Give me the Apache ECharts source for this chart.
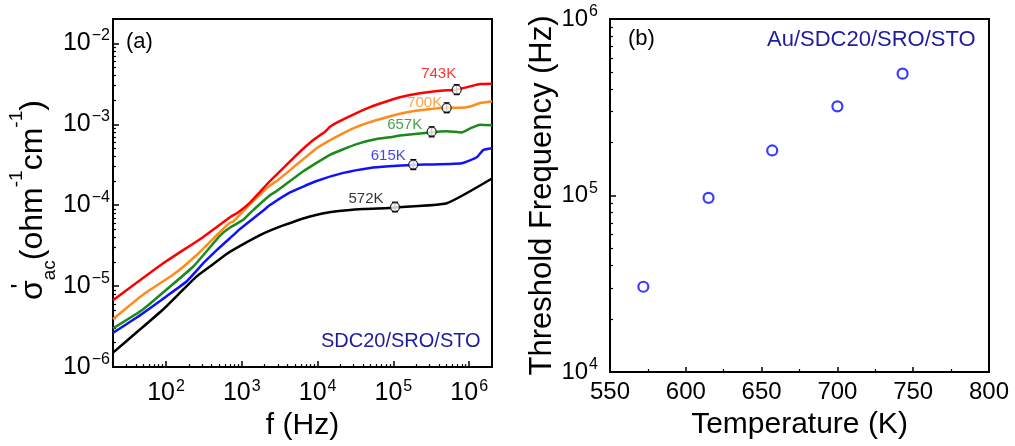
<!DOCTYPE html>
<html><head><meta charset="utf-8">
<script src="https://cdn.jsdelivr.net/npm/echarts@6/dist/echarts.min.js"></script>
<style>html,body{margin:0;padding:0;background:#fff}#c{width:1015px;height:446px}</style>
</head><body><div id="c"></div>
<script>
// ---------------- DATA ----------------
const seriesNames = ['572K', '615K', '657K', '700K', '743K'];

const f_572K = [20, 41.1, 92.2, 169, 254, 381, 632, 1047, 1740, 2307, 3530, 7940, 17870, 40090, 88330, 105000, 505000, 2000000];
const s_572K = [1.51e-6, 2.69e-6, 5.19e-6, 9.1e-6, 1.32e-5, 1.75e-5, 2.5e-5, 3.3e-5, 4.26e-5, 4.81e-5, 5.64e-5, 7.26e-5, 8.41e-5, 8.98e-5, 9.23e-5, 9.42e-5, 1.06e-4, 2.14e-4];

const f_615K = [20, 41.1, 102, 188, 311, 467, 813, 947, 1923, 2307, 4325, 9730, 21830, 49170, 88330, 183000, 796000, 1260000, 1540000, 2000000];
const s_615K = [2.65e-6, 4.1e-6, 7.53e-6, 1.15e-5, 1.92e-5, 2.79e-5, 4.46e-5, 5.1e-5, 8.59e-5, 9.9e-5, 1.44e-4, 1.99e-4, 2.51e-4, 2.89e-4, 3.03e-4, 3.15e-4, 3.31e-4, 3.91e-4, 4.83e-4, 5.07e-4];

const f_657K = [20, 50.2, 102, 229, 516, 700, 1047, 1283, 2307, 2890, 6480, 14580, 32810, 60260, 88330, 122000, 304000, 505000, 796000, 1030000, 1390000, 2000000];
const s_657K = [3.01e-6, 5.19e-6, 9.1e-6, 1.75e-5, 4.2e-5, 5.3e-5, 6.6e-5, 8.0e-5, 1.31e-4, 1.5e-4, 2.63e-4, 4.2e-4, 5.68e-4, 6.58e-4, 6.9e-4, 7.25e-4, 7.94e-4, 8.2e-4, 7.94e-4, 8.89e-4, 9.9e-4, 9.75e-4];

const f_700K = [20, 50.2, 125, 254, 516, 700, 773, 1283, 2307, 2890, 5300, 9730, 17870, 32810, 60260, 88330, 122000, 224000, 505000, 756000, 1030000, 1390000, 2000000];
const s_700K = [3.92e-6, 7.91e-6, 1.39e-5, 2.43e-5, 4.67e-5, 6.07e-5, 6.3e-5, 1.03e-4, 1.73e-4, 1.99e-4, 3.18e-4, 5.07e-4, 7.05e-4, 9.31e-4, 1.13e-3, 1.25e-3, 1.35e-3, 1.49e-3, 1.6e-3, 1.6e-3, 1.66e-3, 1.83e-3, 1.93e-3];

const f_743K = [20, 92, 311, 700, 900, 1283, 2307, 2606, 5300, 8780, 12530, 14580, 17870, 29580, 49170, 88330, 122000, 224000, 412000, 684000, 1030000, 1390000, 2000000];
const s_743K = [6.7e-6, 1.92e-5, 4.06e-5, 7.1e-5, 8.2e-5, 1.08e-4, 1.95e-4, 2.18e-4, 4.2e-4, 6.4e-4, 8.1e-4, 9.3e-4, 1.05e-3, 1.32e-3, 1.63e-3, 1.97e-3, 2.16e-3, 2.42e-3, 2.6e-3, 2.68e-3, 2.94e-3, 3.14e-3, 3.17e-3];

// threshold markers on the curves (a)
const markerFreq  = [1.05e5, 1.83e5, 3.2e5, 5.05e5, 6.84e5];
const markerSigma = [9.5e-5, 3.18e-4, 8.1e-4, 1.6e-3, 2.68e-3];
const markerLow   = [8.3e-5, 2.76e-4, 7.0e-4, 1.39e-3, 2.33e-3];
const markerHigh  = [1.09e-4, 3.66e-4, 9.3e-4, 1.84e-3, 3.08e-3];

// panel (b)
const thresholdTemp = [572, 615, 657, 700, 743];
const thresholdFreq = [3.04e4, 9.7e4, 1.8e5, 3.2e5, 4.9e5];

// tick labels
const fTicksA = [1e2, 1e3, 1e4, 1e5, 1e6];
const sTicksA = [1e-6, 1e-5, 1e-4, 1e-3, 1e-2];
const tTicksB = [550, 600, 650, 700, 750, 800];
const yTicksB = [1e4, 1e5, 1e6];

// ---------------- STYLE ----------------
const colors = ['#000000', '#1010ff', '#1a8a1a', '#ff8c1a', '#ff0000'];
const labelOffsets = [[-29, -8], [-25, -9], [-27, -7], [-22, -5], [-18, -16]];
const FONT = "'Liberation Sans', Arial, sans-serif";

function logMinors(lo, hi) {
  const out = [];
  for (let e = Math.floor(Math.log10(lo)); e <= Math.ceil(Math.log10(hi)); e++) {
    for (let m = 2; m <= 9; m++) {
      const v = parseFloat((m * Math.pow(10, e)).toPrecision(6));
      if (v > lo * 1.0001 && v < hi * 0.9999) out.push(v);
    }
  }
  return out;
}
const supFmt = v => '{b|10}{s|' + String(Math.round(Math.log10(v))).replace('-', '\u2212') + '}';
const richTick = (bs, ss) => ({
  b: { fontSize: bs, lineHeight: bs + 6, fontFamily: FONT, color: '#000' },
  s: { fontSize: ss, lineHeight: ss, verticalAlign: 'top', fontFamily: FONT, color: '#000', padding: [0, 0, 0, 1] }
});
const lineStyleAx = { color: '#000', width: 2 };

const fA = [f_572K, f_615K, f_657K, f_700K, f_743K];
const sA = [s_572K, s_615K, s_657K, s_700K, s_743K];

const series = [];
seriesNames.forEach((n, i) => {
  series.push({
    type: 'line', name: n, xAxisIndex: 0, yAxisIndex: 0,
    data: fA[i].map((f, j) => [f, sA[i][j]]),
    showSymbol: false, symbol: 'none', smooth: 0.15,
    lineStyle: { color: colors[i], width: 2.5 }, z: 2
  });
});
series.push({
  type: 'custom', xAxisIndex: 0, yAxisIndex: 0, z: 5,
  data: markerFreq.map((f, i) => [f, markerLow[i], markerHigh[i]]),
  encode: { x: 0, y: [1, 2] },
  renderItem: (params, api) => {
    const p1 = api.coord([api.value(0), api.value(1)]);
    const p2 = api.coord([api.value(0), api.value(2)]);
    const w = 3, st = { stroke: '#000', lineWidth: 1.3 };
    return { type: 'group', children: [
      { type: 'line', shape: { x1: p1[0], y1: p1[1], x2: p2[0], y2: p2[1] }, style: st },
      { type: 'line', shape: { x1: p1[0] - w, y1: p1[1], x2: p1[0] + w, y2: p1[1] }, style: st },
      { type: 'line', shape: { x1: p2[0] - w, y1: p2[1], x2: p2[0] + w, y2: p2[1] }, style: st }
    ]};
  }
});
series.push({
  type: 'scatter', xAxisIndex: 0, yAxisIndex: 0, z: 6,
  symbol: 'circle', symbolSize: 9,
  itemStyle: { color: '#fff', borderColor: '#000', borderWidth: 1.3 },
  data: markerFreq.map((f, i) => ({
    value: [f, markerSigma[i]], name: seriesNames[i],
    label: { show: true, position: 'inside', offset: labelOffsets[i], formatter: seriesNames[i],
      color: colors[i], fontSize: 15, fontFamily: FONT }
  }))
});
series.push({
  type: 'scatter', xAxisIndex: 2, yAxisIndex: 2,
  symbol: 'circle', symbolSize: 10,
  itemStyle: { color: '#fff', borderColor: '#0a0aff', borderWidth: 2.2 },
  data: thresholdTemp.map((t, i) => [t, thresholdFreq[i]])
});

const option = {
  animation: false,
  backgroundColor: '#fff',
  grid: [
    { left: 113, top: 19, width: 379, height: 353, show: true, borderColor: '#000', borderWidth: 2, backgroundColor: 'transparent' },
    { left: 610, top: 19, width: 379, height: 353, show: true, borderColor: '#000', borderWidth: 2, backgroundColor: 'transparent' }
  ],
  xAxis: [
    { type: 'log', logBase: 10, gridIndex: 0, min: 20, max: 2e6, position: 'bottom',
      axisLine: { show: true, lineStyle: lineStyleAx },
      axisTick: { show: true, inside: true, length: 6, lineStyle: { color: '#000', width: 1.5 }, customValues: fTicksA },
      axisLabel: { show: true, margin: 11, customValues: fTicksA, formatter: supFmt, rich: richTick(25, 16) },
      splitLine: { show: false },
      name: 'f (Hz)', nameLocation: 'middle', nameGap: 38,
      nameTextStyle: { fontSize: 30, fontFamily: FONT, color: '#000' } },
    { type: 'log', logBase: 10, gridIndex: 0, min: 20, max: 2e6, position: 'bottom', offset: 0,
      axisLine: { show: false },
      axisTick: { show: true, inside: true, length: 3, lineStyle: { color: '#000', width: 1.2 }, customValues: logMinors(20, 2e6) },
      axisLabel: { show: false }, splitLine: { show: false } },
    { type: 'value', gridIndex: 1, min: 550, max: 800, interval: 50, position: 'bottom',
      axisLine: { show: true, lineStyle: lineStyleAx },
      axisTick: { show: true, inside: true, length: 5, lineStyle: { color: '#000', width: 1.5 } },
      minorTick: { show: true, splitNumber: 2, length: 3, lineStyle: { color: '#000', width: 1.2 } },
      axisLabel: { show: true, margin: 8, fontSize: 24, fontFamily: FONT, color: '#000',
        customValues: tTicksB, formatter: v => String(v) },
      splitLine: { show: false },
      name: 'Temperature (K)', nameLocation: 'middle', nameGap: 38,
      nameTextStyle: { fontSize: 30, fontFamily: FONT, color: '#000' } }
  ],
  yAxis: [
    { type: 'log', logBase: 10, gridIndex: 0, min: 1e-6, max: 2e-2, position: 'left',
      axisLine: { show: true, lineStyle: lineStyleAx },
      axisTick: { show: true, inside: true, length: 6, lineStyle: { color: '#000', width: 1.5 }, customValues: sTicksA },
      axisLabel: { show: true, margin: 3, customValues: sTicksA, formatter: supFmt, rich: richTick(25, 16) },
      splitLine: { show: false },
      name: "{m|σ}{sub|ac}{m|(ohm}{sup|-1}{m|cm}{sup|-1}{m|)}",
      nameLocation: 'middle', nameGap: 44, nameRotate: 90,
      nameTextStyle: { fontFamily: FONT, color: '#000', padding: [0, 14, 0, 0], rich: {
        m: { fontSize: 32, lineHeight: 52, fontFamily: FONT, color: '#000' },
        sub: { fontSize: 19, lineHeight: 19, verticalAlign: 'bottom', fontFamily: FONT, color: '#000' },
        sup: { fontSize: 19, lineHeight: 19, verticalAlign: 'top', fontFamily: FONT, color: '#000' }
      } } },
    { type: 'log', logBase: 10, gridIndex: 0, min: 1e-6, max: 2e-2, position: 'left', offset: 0,
      axisLine: { show: false },
      axisTick: { show: true, inside: true, length: 3, lineStyle: { color: '#000', width: 1.2 }, customValues: logMinors(1e-6, 2e-2) },
      axisLabel: { show: false }, splitLine: { show: false } },
    { type: 'log', logBase: 10, gridIndex: 1, min: 1e4, max: 1e6, position: 'left',
      axisLine: { show: true, lineStyle: lineStyleAx },
      axisTick: { show: true, inside: true, length: 6, lineStyle: { color: '#000', width: 1.5 }, customValues: yTicksB },
      axisLabel: { show: true, margin: 12, customValues: yTicksB, formatter: supFmt, rich: richTick(24, 16) },
      splitLine: { show: false },
      name: 'Threshold Frequency (Hz)', nameLocation: 'middle', nameGap: 52, nameRotate: 90,
      nameTextStyle: { fontSize: 31, fontFamily: FONT, color: '#000' } },
    { type: 'log', logBase: 10, gridIndex: 1, min: 1e4, max: 1e6, position: 'left', offset: 0,
      axisLine: { show: false },
      axisTick: { show: true, inside: true, length: 3, lineStyle: { color: '#000', width: 1.2 }, customValues: logMinors(1e4, 1e6) },
      axisLabel: { show: false }, splitLine: { show: false } }
  ],
  graphic: [
    { type: 'text', x: 126, y: 42, style: { text: '(a)', fontSize: 22, fontFamily: FONT, fill: '#000', verticalAlign: 'middle' } },
    { type: 'text', x: 321, y: 341, style: { text: 'SDC20/SRO/STO', fontSize: 20, fontFamily: FONT, fill: '#1c1ca0', verticalAlign: 'middle' } },
    { type: 'text', x: 628, y: 39, style: { text: '(b)', fontSize: 22, fontFamily: FONT, fill: '#000', verticalAlign: 'middle' } },
    { type: 'text', x: 767, y: 40, style: { text: 'Au/SDC20/SRO/STO', fontSize: 22, fontFamily: FONT, fill: '#1c1ca0', verticalAlign: 'middle' } },
    { type: 'text', x: 22, y: 286, rotation: Math.PI / 2, style: { text: "'", fontSize: 26, fontFamily: FONT, fill: '#000', align: 'center', verticalAlign: 'middle' } }
  ],
  series: series
};
const chart = echarts.init(document.getElementById('c'), null, { renderer: 'canvas' });
chart.setOption(option);
</script>
</body></html>
